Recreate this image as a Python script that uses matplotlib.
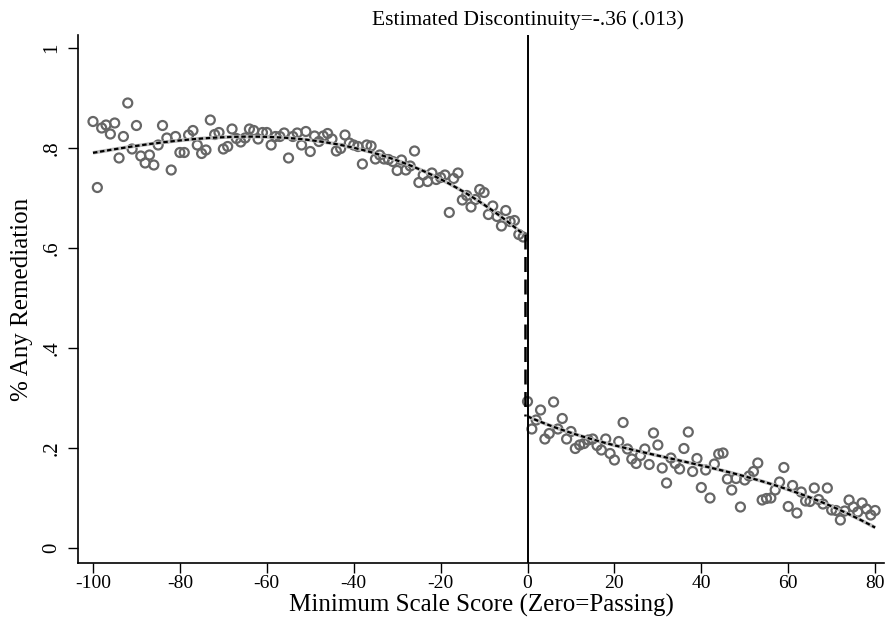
import numpy as np
import matplotlib
matplotlib.use("Agg")
import matplotlib.pyplot as plt

plt.rcParams['font.family'] = ['Liberation Serif', 'DejaVu Serif']

# Binned means, left of cutoff (scores -100 .. -1)
score_left = list(range(-100, 0))
rem_left = [0.853, 0.721, 0.840, 0.846, 0.828, 0.850, 0.780, 0.823, 0.890, 0.798,
            0.845, 0.784, 0.770, 0.786, 0.766, 0.806, 0.845, 0.820, 0.756, 0.823,
            0.791, 0.791, 0.826, 0.835, 0.806, 0.789, 0.796, 0.856, 0.827, 0.831,
            0.798, 0.803, 0.838, 0.819, 0.812, 0.820, 0.838, 0.835, 0.818, 0.831,
            0.831, 0.806, 0.823, 0.823, 0.830, 0.780, 0.823, 0.830, 0.806, 0.833,
            0.793, 0.824, 0.813, 0.824, 0.829, 0.818, 0.794, 0.799, 0.826, 0.810,
            0.806, 0.803, 0.768, 0.806, 0.804, 0.778, 0.786, 0.778, 0.777, 0.773,
            0.755, 0.776, 0.756, 0.764, 0.794, 0.731, 0.746, 0.733, 0.750, 0.737,
            0.741, 0.746, 0.671, 0.739, 0.750, 0.696, 0.705, 0.682, 0.697, 0.717,
            0.711, 0.667, 0.684, 0.663, 0.644, 0.675, 0.653, 0.655, 0.627, 0.622]

# Binned means, right of cutoff (scores 0 .. 80)
score_right = list(range(0, 81))
rem_right = [0.293, 0.238, 0.256, 0.276, 0.218, 0.229, 0.292, 0.238, 0.259, 0.218,
             0.233, 0.199, 0.206, 0.209, 0.216, 0.218, 0.205, 0.196, 0.218, 0.189,
             0.176, 0.213, 0.251, 0.198, 0.178, 0.169, 0.185, 0.198, 0.167, 0.230,
             0.206, 0.160, 0.130, 0.180, 0.169, 0.158, 0.199, 0.232, 0.153, 0.179,
             0.121, 0.156, 0.100, 0.168, 0.188, 0.190, 0.138, 0.116, 0.139, 0.082,
             0.136, 0.144, 0.153, 0.170, 0.096, 0.099, 0.100, 0.116, 0.132, 0.161,
             0.083, 0.125, 0.070, 0.112, 0.094, 0.093, 0.120, 0.097, 0.088, 0.120,
             0.076, 0.075, 0.056, 0.074, 0.096, 0.082, 0.072, 0.090, 0.078, 0.066,
             0.075]

# Fitted curve values
fit_x_left = [-100, -90, -80, -70, -60, -50, -40, -30, -20, -10, -1]
fit_y_left = [0.791, 0.803, 0.815, 0.822, 0.824, 0.815, 0.800, 0.774, 0.738, 0.688, 0.627]
fit_x_right = [0, 10, 20, 30, 40, 50, 60, 70, 80]
fit_y_right = [0.263, 0.231, 0.205, 0.184, 0.166, 0.143, 0.117, 0.083, 0.041]

xticks = [-100, -80, -60, -40, -20, 0, 20, 40, 60, 80]
yticks = [0, 0.2, 0.4, 0.6, 0.8, 1.0]
ytick_labels = ["0", ".2", ".4", ".6", ".8", "1"]
title = "Estimated Discontinuity=-.36 (.013)"

# smooth the read-off curve with a low-order polynomial through its knots
def smooth(xs, ys, deg):
    xs = np.array(xs, float); ys = np.array(ys, float)
    p = np.polyfit(xs, ys, deg)
    gx = np.linspace(xs[0], xs[-1], 300)
    return gx, np.polyval(p, gx)

fxl, fyl = smooth(fit_x_left, fit_y_left, 4)
fxr, fyr = smooth(fit_x_right, fit_y_right, 4)

fig = plt.figure(figsize=(8.85, 6.3), dpi=100)
ax = fig.add_axes([78/885, 67/630, 1 - 78/885 - 0.001, (563-35)/630])

ax.scatter(score_left, rem_left, s=42, facecolors='none', edgecolors='#666666', linewidths=1.6, zorder=3)
ax.scatter(score_right, rem_right, s=42, facecolors='none', edgecolors='#666666', linewidths=1.6, zorder=3)

for fx, fy in ((fxl, fyl), (fxr, fyr)):
    ax.plot(fx, fy, color='#bbbbbb', lw=2.6, zorder=4, solid_capstyle='butt')
    ax.plot(fx, fy, color='black', lw=1.6, dashes=(2.0, 1.2), zorder=5)
ax.plot([-0.6, -0.6], [fyl[-1], fyr[0]], color='black', lw=1.8, dashes=(6, 3), zorder=5)

ax.axvline(0, color='black', lw=1.4, zorder=6)

ax.set_xlim(-103.45, 82.07)
ax.set_ylim(-0.030, 1.026)
ax.set_xticks(xticks)
ax.set_xticklabels([str(t) for t in xticks])
ax.set_yticks(yticks)
ax.set_yticklabels(ytick_labels, rotation=90, va='center')
ax.tick_params(axis='x', direction='out', length=7, width=1, labelsize=14, pad=2)
ax.tick_params(axis='y', direction='out', length=7, width=1, labelsize=15, pad=5)
for s in ('top', 'right'):
    ax.spines[s].set_visible(False)
for s in ('left', 'bottom'):
    ax.spines[s].set_linewidth(1.2)

ax.set_xlabel("Minimum Scale Score (Zero=Passing)", fontsize=18, labelpad=1)
ax.set_ylabel("% Any Remediation", fontsize=18, labelpad=7)
ax.text(0, 1.026 + 15/500, title, ha='center', va='center', fontsize=15.5,
        transform=ax.transData, clip_on=False)

fig.savefig("out.png", dpi=100)
